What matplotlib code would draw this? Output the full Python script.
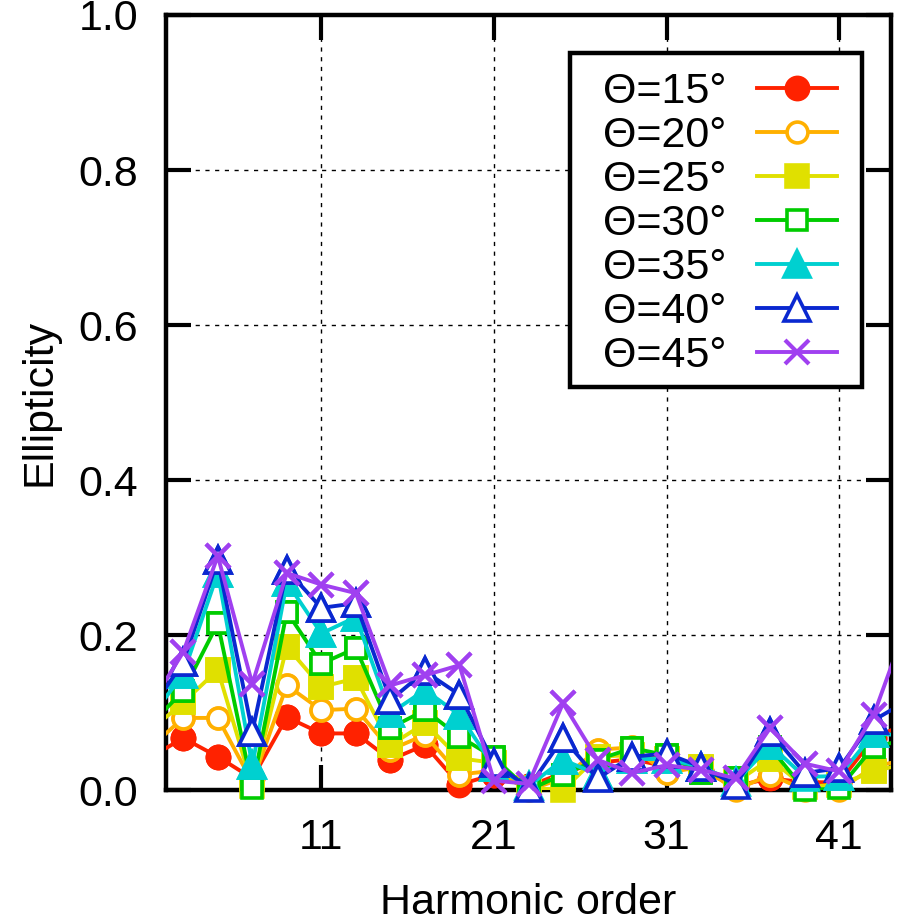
import numpy as np
import matplotlib
matplotlib.use("Agg")
import matplotlib.pyplot as plt
from matplotlib.patches import Rectangle

plt.rcParams['font.family'] = ['Liberation Sans', 'DejaVu Sans']

harmonics = np.arange(1, 47, 2)  # 1..45

theta_labels = ["Θ=15°", "Θ=20°", "Θ=25°", "Θ=30°", "Θ=35°", "Θ=40°", "Θ=45°"]

e15 = [0.041, 0.067, 0.043, 0.015, 0.094, 0.073, 0.073, 0.039, 0.058, 0.007, 0.020, 0.005,
       0.022, 0.035, 0.040, 0.030, 0.025, 0.005, 0.015, 0.010, 0.010, 0.067, 0.087]
e20 = [0.053, 0.093, 0.093, 0.010, 0.135, 0.103, 0.105, 0.052, 0.071, 0.020, 0.025, 0.000,
       0.015, 0.052, 0.055, 0.022, 0.030, 0.000, 0.020, 0.000, 0.000, 0.030, 0.040]
e25 = [0.075, 0.113, 0.155, 0.005, 0.185, 0.133, 0.144, 0.058, 0.086, 0.041, 0.035, 0.003,
       0.000, 0.043, 0.045, 0.040, 0.030, 0.010, 0.040, 0.004, 0.007, 0.024, 0.035]
e30 = [0.082, 0.128, 0.215, 0.003, 0.230, 0.163, 0.183, 0.080, 0.103, 0.069, 0.042, 0.000,
       0.020, 0.039, 0.054, 0.045, 0.022, 0.015, 0.055, 0.000, 0.002, 0.056, 0.065]
e35 = [0.090, 0.150, 0.280, 0.032, 0.268, 0.202, 0.223, 0.099, 0.129, 0.097, 0.030, 0.005,
       0.039, 0.020, 0.040, 0.040, 0.030, 0.010, 0.058, 0.017, 0.018, 0.073, 0.070]
e40 = [0.100, 0.165, 0.297, 0.075, 0.284, 0.235, 0.241, 0.116, 0.153, 0.123, 0.035, 0.003,
       0.067, 0.015, 0.043, 0.047, 0.030, 0.007, 0.075, 0.022, 0.028, 0.090, 0.116]
e45 = [0.106, 0.178, 0.302, 0.137, 0.280, 0.265, 0.254, 0.135, 0.148, 0.161, 0.012, 0.008,
       0.112, 0.039, 0.022, 0.032, 0.026, 0.015, 0.080, 0.034, 0.024, 0.097, 0.220]

series = [e15, e20, e25, e30, e35, e40, e45]
colors = ['#ff2200', '#ffb000', '#e0e000', '#00cc00', '#00d0d0', '#0a28d0', '#a040f0']
markers = ['o', 'o', 's', 's', '^', '^', 'x']
filled = [True, False, True, False, True, False, True]
msizes = [16, 15, 16, 15, 19, 19, 17]

x_ticks = [11, 21, 31, 41]
y_ticks = [0.0, 0.2, 0.4, 0.6, 0.8, 1.0]

fig = plt.figure(figsize=(8.99, 9.21), dpi=100)
ax = fig.add_axes([166/899, 1-790/921, (891-166)/899, (790-15)/921])

xlo, xhi = 2, 44
for vals, c, mk, fl, ms, lab in zip(series, colors, markers, filled, msizes, theta_labels):
    vals = np.asarray(vals)
    mfc = c if fl else 'white'
    mew = 3.0 if mk == 'x' else 2.6
    ax.plot(harmonics, vals, color=c, lw=2.8, marker=mk, ms=ms, mfc=mfc, mec=c,
            mew=mew, label=lab, zorder=3)
    m = (harmonics >= xlo) & (harmonics <= xhi)
    ax.plot(harmonics[m], vals[m], ls='none', marker=mk, ms=ms, mfc=mfc, mec=c,
            mew=mew, clip_on=False, zorder=3)

ax.set_xlim(xlo, xhi)
ax.set_ylim(0, 1)
ax.set_xticks(x_ticks)
ax.set_yticks(y_ticks)
ax.set_yticklabels([f"{v:.1f}" for v in y_ticks])
ax.tick_params(direction='in', length=18, width=3, top=True, right=True,
               labelsize=31, colors='black')
ax.tick_params(axis='y', pad=20)
ax.tick_params(axis='x', pad=20)
for s in ax.spines.values():
    s.set_linewidth(3.2)
ax.grid(True, color='black', lw=1.0, linestyle=(0, (3, 4)), zorder=1)
ax.set_axisbelow(True)

ax.set_xlabel("Harmonic order", fontsize=31, labelpad=18)
ax.set_ylabel("Ellipticity", fontsize=31, labelpad=14)

# legend box
box = Rectangle((0.557, 0.52), 0.403, 0.431, transform=ax.transAxes,
                facecolor='white', edgecolor='black', lw=3.2, zorder=4, clip_on=False)
ax.add_patch(box)
leg = ax.legend(loc='upper right', bbox_to_anchor=(0.9255, 0.9265), fontsize=31,
                markerfirst=False, handlelength=1.86, handletextpad=0.7,
                labelspacing=0.093, borderpad=0.0, borderaxespad=0.0,
                frameon=False)
leg.set_zorder(5)

fig.savefig("out.png", dpi=100)
